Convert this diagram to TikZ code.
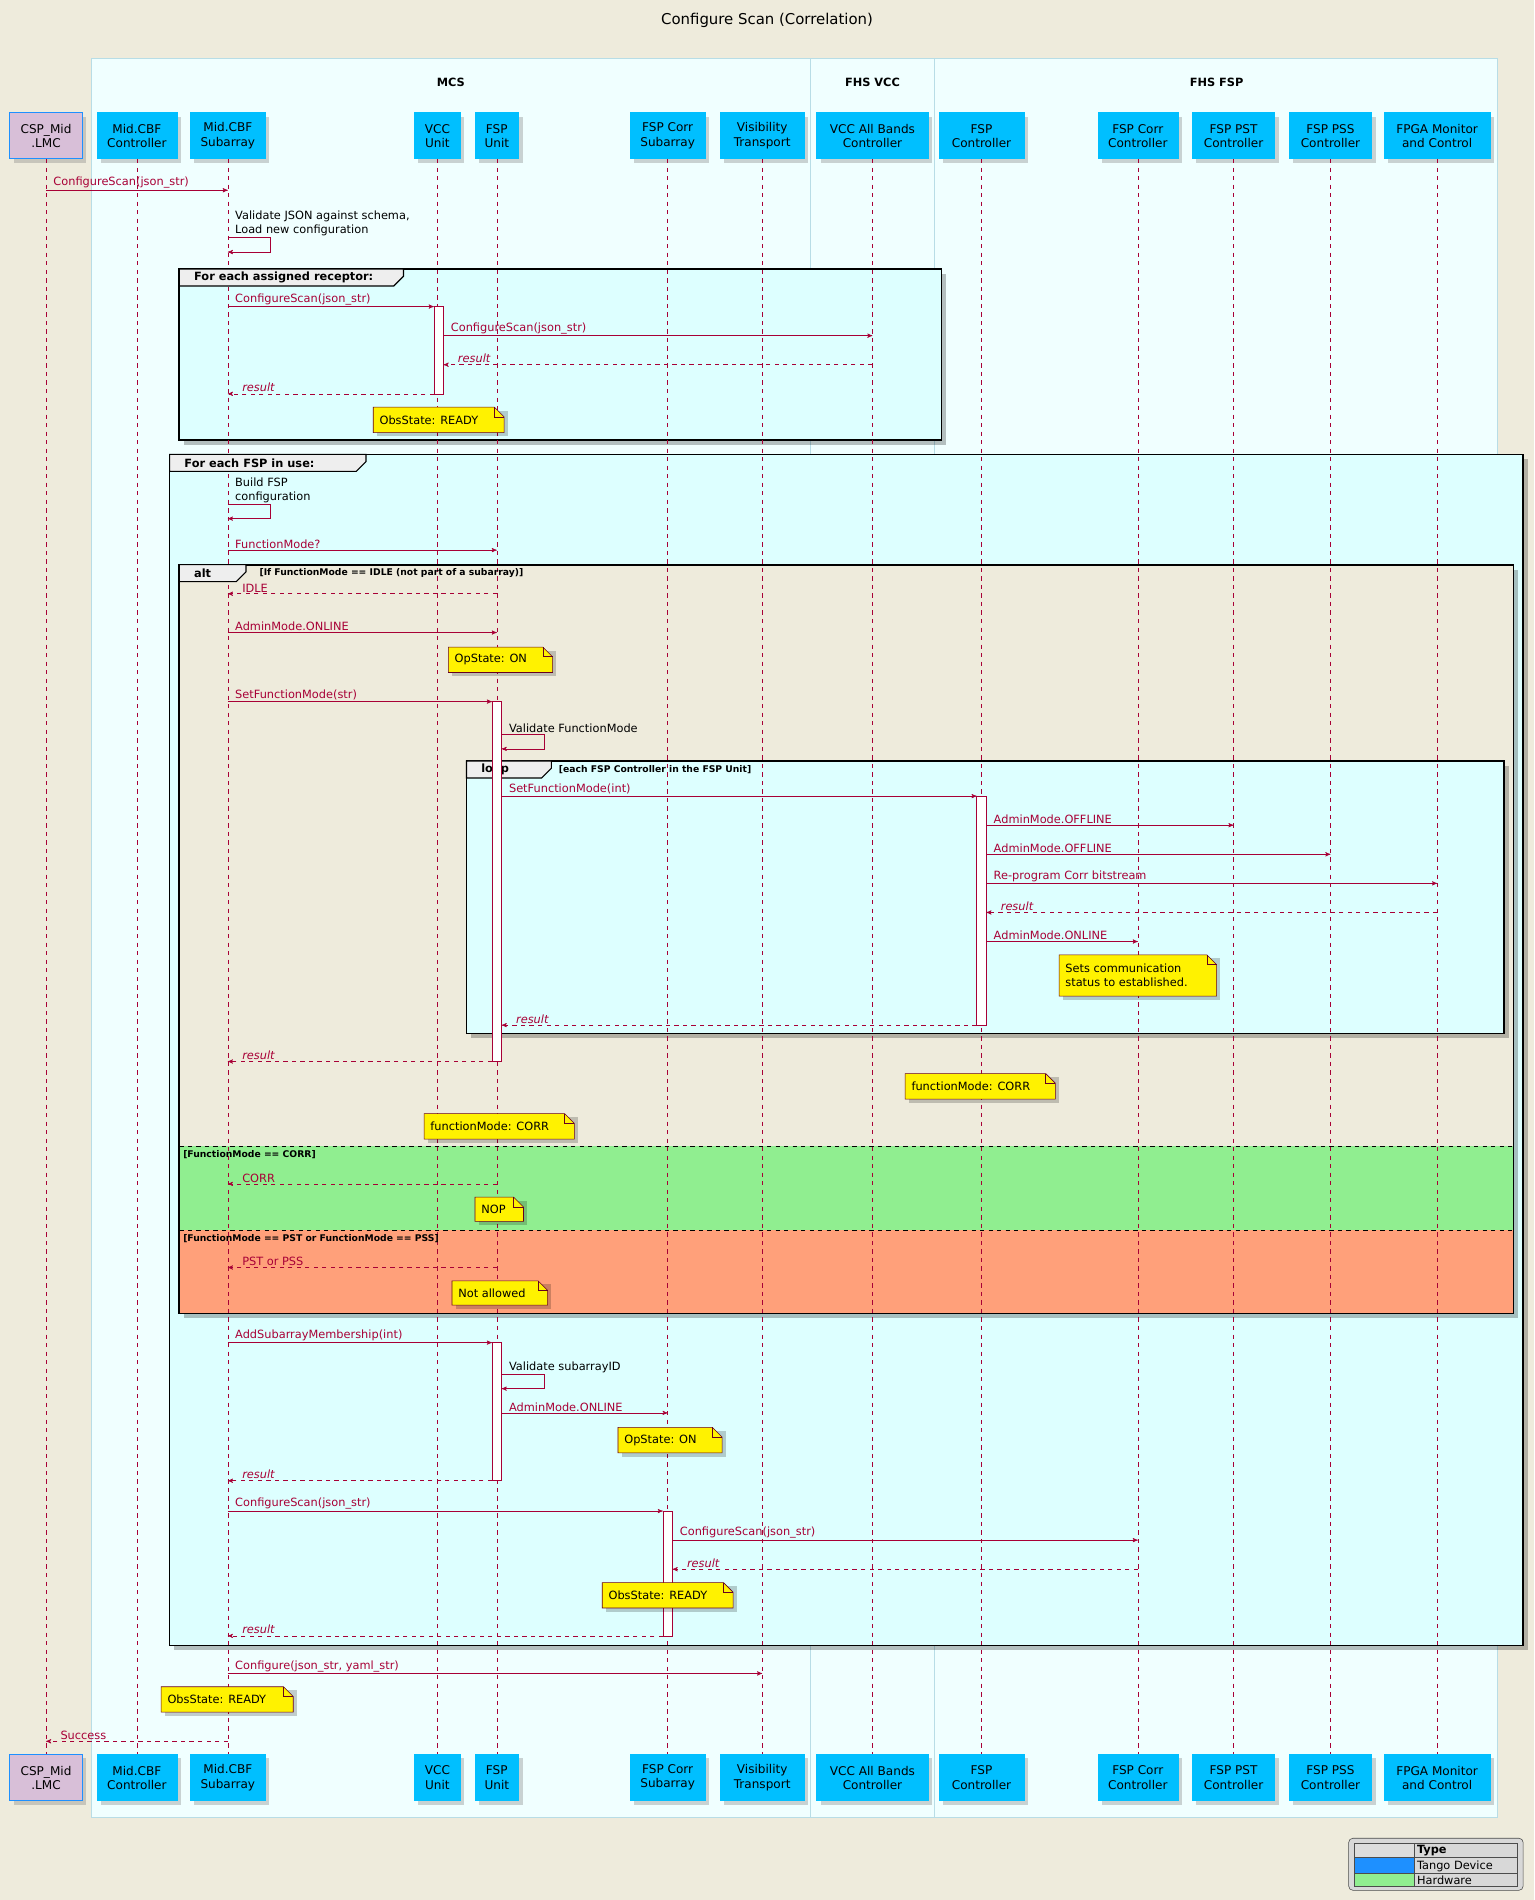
\documentclass[tikz,border=0pt]{standalone}
\usepackage{fontspec}
\setmainfont{DejaVu Sans}
\usetikzlibrary{arrows,shadows}
\definecolor{bgbeige}{HTML}{EEEBDC}
\definecolor{boxazure}{HTML}{F0FFFF}
\definecolor{boxline}{HTML}{B8DDE6}
\definecolor{grpcyan}{HTML}{DDFFFF}
\definecolor{partblue}{HTML}{00BFFF}
\definecolor{lmcfill}{HTML}{D8BFD8}
\definecolor{seqred}{HTML}{A80036}
\definecolor{altgreen}{HTML}{90EE90}
\definecolor{altsalmon}{HTML}{FFA07A}
\definecolor{tangoblue}{HTML}{1E90FF}
\definecolor{tabgray}{HTML}{EEEEEE}

\tikzset{
  part/.style={fill=partblue, draw=partblue, minimum height=1.14cm, inner sep=1pt,
    align=center, font=\fontsize{8.5}{10}\selectfont, drop shadow={opacity=0.35}},
  lifeline/.style={seqred, dashed, thin},
  msgline/.style={seqred, ->, >=stealth'},
  msgtext/.style={font=\fontsize{8}{9.5}\selectfont, inner sep=1pt, align=left},
  actbar/.style={fill=white, draw=seqred},
  notebox/.style={fill=yellow, draw=seqred!60!black, thin},
  notetext/.style={font=\fontsize{8}{9.5}\selectfont, inner sep=0pt, align=left, anchor=west},
  grpframe/.style={draw=black, very thick},
  tabtext/.style={font=\bfseries\fontsize{8}{9}\selectfont, inner sep=0pt, anchor=west},
  condtext/.style={font=\bfseries\fontsize{6.5}{8}\selectfont, inner sep=0pt, anchor=west},
  boxtitle/.style={font=\bfseries\fontsize{8}{9}\selectfont}
}

% message to the right: label at start; to the left: label near head
\newcommand\msgr[5][]{\draw[msgline,#1] (#2 |- 0,#4) -- (#3 |- 0,#4)
  node[msgtext, pos=0, anchor=south west, xshift=4pt] {#5};}
\newcommand\msgl[5][]{\draw[msgline,#1] (#2 |- 0,#4) -- (#3 |- 0,#4)
  node[msgtext, pos=1, anchor=south west, xshift=9pt] {#5};}
\newcommand\selfmsg[3]{\draw[msgline] (#1 |- 0,#2) -- ++(35,0) -- ++(0,12) -- ++(-35,0);
  \node[msgtext, anchor=south west, xshift=4pt] at (#1 |- 0,#2) {#3};}
\newcommand\seqnote[5]{%
  \fill[black, opacity=0.2] (#1+3,#2+3) rectangle (#3+3,#4+3);
  \filldraw[notebox] (#1,#2) -- (#3-8,#2) -- (#3,#2+8) -- (#3,#4) -- (#1,#4) -- cycle;
  \draw[seqred!60!black, thin] (#3-8,#2) -- (#3-8,#2+8) -- (#3,#2+8);
  \node[notetext] at (#1+5,{(#2+#4)/2}) {#5};}
\newcommand\grptab[4]{%
  \filldraw[fill=tabgray, draw=black, thick] (#1,#2) -- (#1,#2+14) -- (#1+#3-8,#2+14) -- (#1+#3,#2+6) -- (#1+#3,#2) -- cycle;
  \node[tabtext] at (#1+12,#2+7) {#4};}
\newcommand\actbox[3]{\filldraw[actbar] (#1-4,#2) rectangle (#1+4,#3);}

\begin{document}
\begin{tikzpicture}[x=0.03cm, y=-0.03cm]
% canvas
\fill[bgbeige] (0,0) rectangle (1266,1568);
\node[font=\fontsize{10.5}{12}\selectfont] (title) at (633,17) {Configure Scan (Correlation)};

% boxes around participants
\filldraw[fill=boxazure, draw=boxline] (75,48) rectangle (669,1500);
\filldraw[fill=boxazure, draw=boxline] (669,48) rectangle (771,1500);
\filldraw[fill=boxazure, draw=boxline] (771,48) rectangle (1236,1500);
\node[boxtitle] (mcs) at (372,68) {MCS};
\node[boxtitle] (fhsvcc) at (720,68) {FHS VCC};
\node[boxtitle] (fhsfsp) at (1004,68) {FHS FSP};

% group frames (fills)
\fill[black, opacity=0.25] (152,226) rectangle (781,367);
\filldraw[grpframe, fill=grpcyan] (148,222) rectangle (777,363);
\fill[black, opacity=0.25] (144,379) rectangle (1261,1362);
\filldraw[grpframe, fill=grpcyan] (140,375) rectangle (1257,1358);
\fill[black, opacity=0.25] (152,470) rectangle (1253,1088);
\fill[bgbeige] (148,466) rectangle (1249,946);
\fill[altgreen] (148,946) rectangle (1249,1015);
\fill[altsalmon] (148,1015) rectangle (1249,1084);
\draw[grpframe] (148,466) rectangle (1249,1084);
\draw[black, dashed, thin] (148,946) -- (1249,946);
\draw[black, dashed, thin] (148,1015) -- (1249,1015);
\fill[black, opacity=0.25] (389,632) rectangle (1245,857);
\filldraw[grpframe, fill=grpcyan] (385,628) rectangle (1241,853);

% participants
\node[part, fill=lmcfill, draw=tangoblue, minimum width=1.8cm] (lmc) at (38,112) {CSP\_Mid\\.LMC};
\node[part, minimum width=1.98cm] (ctrl) at (113,112) {Mid.CBF\\Controller};
\node[part, minimum width=1.86cm] (sub) at (188,112) {Mid.CBF\\Subarray};
\node[part, minimum width=1.14cm] (vcc) at (361,112) {VCC\\Unit};
\node[part, minimum width=1.08cm] (fsp) at (410,112) {FSP\\Unit};
\node[part, minimum width=1.86cm] (fcs) at (551,112) {FSP Corr\\Subarray};
\node[part, minimum width=2.07cm] (vis) at (629,112) {Visibility\\Transport};
\node[part, minimum width=2.76cm] (vccall) at (720,112) {VCC All Bands\\Controller};
\node[part, minimum width=2.1cm] (fspc) at (810,112) {FSP\\Controller};
\node[part, minimum width=1.98cm] (corrc) at (939,112) {FSP Corr\\Controller};
\node[part, minimum width=2.04cm] (pstc) at (1018,112) {FSP PST\\Controller};
\node[part, minimum width=2.04cm] (pssc) at (1098,112) {FSP PSS\\Controller};
\node[part, minimum width=2.64cm] (fpga) at (1186,112) {FPGA Monitor\\and Control};

\node[part, fill=lmcfill, draw=tangoblue, minimum width=1.8cm] (lmcB) at (38,1467) {CSP\_Mid\\.LMC};
\node[part, minimum width=1.98cm] (ctrlB) at (113,1467) {Mid.CBF\\Controller};
\node[part, minimum width=1.86cm] (subB) at (188,1467) {Mid.CBF\\Subarray};
\node[part, minimum width=1.14cm] (vccB) at (361,1467) {VCC\\Unit};
\node[part, minimum width=1.08cm] (fspB) at (410,1467) {FSP\\Unit};
\node[part, minimum width=1.86cm] (fcsB) at (551,1467) {FSP Corr\\Subarray};
\node[part, minimum width=2.07cm] (visB) at (629,1467) {Visibility\\Transport};
\node[part, minimum width=2.76cm] (vccallB) at (720,1467) {VCC All Bands\\Controller};
\node[part, minimum width=2.1cm] (fspcB) at (810,1467) {FSP\\Controller};
\node[part, minimum width=1.98cm] (corrcB) at (939,1467) {FSP Corr\\Controller};
\node[part, minimum width=2.04cm] (pstcB) at (1018,1467) {FSP PST\\Controller};
\node[part, minimum width=2.04cm] (psscB) at (1098,1467) {FSP PSS\\Controller};
\node[part, minimum width=2.64cm] (fpgaB) at (1186,1467) {FPGA Monitor\\and Control};

% lifelines
\foreach \p in {lmc,ctrl,sub,vcc,fsp,fcs,vis,vccall,fspc,corrc,pstc,pssc,fpga}
  \draw[lifeline] (\p.south) -- (\p B.north);

% frame tabs
\grptab{148}{222}{185}{For each assigned receptor:}
\grptab{140}{375}{162}{For each FSP in use:}
\grptab{148}{466}{55}{alt}
\node[condtext] (c1) at (214,473) {[If FunctionMode == IDLE (not part of a subarray)]};
\node[condtext] (c2) at (151,953) {[FunctionMode == CORR]};
\node[condtext] (c3) at (151,1022) {[FunctionMode == PST or FunctionMode == PSS]};
\grptab{385}{628}{70}{loop}
\node[condtext] (c4) at (461,635) {[each FSP Controller in the FSP Unit]};

% activation bars
\actbox{362}{253}{325}
\actbox{410}{579}{876}
\actbox{410}{1108}{1222}
\actbox{810}{657}{846}
\actbox{551}{1247}{1350}
\coordinate (vccL) at (358,0); \coordinate (vccR) at (366,0);
\coordinate (fspL) at (406,0); \coordinate (fspR) at (414,0);
\coordinate (fspcL) at (806,0); \coordinate (fspcR) at (814,0);
\coordinate (fcsL) at (547,0); \coordinate (fcsR) at (555,0);

% messages
\msgr{lmc}{sub}{157}{ConfigureScan(json\_str)}
\selfmsg{sub}{196}{Validate JSON against schema,\\Load new configuration}
\msgr{sub}{vccL}{253}{ConfigureScan(json\_str)}
\msgr{vccR}{vccall}{277}{ConfigureScan(json\_str)}
\msgl[dashed]{vccall}{vccR}{301}{\textit{result}}
\msgl[dashed]{vccL}{sub}{325}{\textit{result}}
\seqnote{308}{336}{416}{357}{ObsState: READY}

\selfmsg{sub}{416}{Build FSP\\configuration}
\msgr{sub}{fsp}{454}{FunctionMode?}
\msgl[dashed]{fsp}{sub}{490}{IDLE}
\msgr{sub}{fsp}{522}{AdminMode.ONLINE}
\seqnote{370}{534}{456}{555}{OpState: ON}
\msgr{sub}{fspL}{579}{SetFunctionMode(str)}
\selfmsg{fspR}{606}{Validate FunctionMode}
\msgr{fspR}{fspcL}{657}{SetFunctionMode(int)}
\msgr{fspcR}{pstc}{681}{AdminMode.OFFLINE}
\msgr{fspcR}{pssc}{705}{AdminMode.OFFLINE}
\msgr{fspcR}{fpga}{729}{Re-program Corr bitstream}
\msgl[dashed]{fpga}{fspcR}{753}{\textit{result}}
\msgr{fspcR}{corrc}{777}{AdminMode.ONLINE}
\seqnote{874}{788}{1004}{822}{Sets communication\\status to established.}
\msgl[dashed]{fspcL}{fspR}{846}{\textit{result}}
\msgl[dashed]{fspL}{sub}{876}{\textit{result}}
\seqnote{747}{886}{871}{907}{functionMode: CORR}
\seqnote{350}{919}{474}{940}{functionMode: CORR}
\msgl[dashed]{fsp}{sub}{977}{CORR}
\seqnote{392}{988}{432}{1008}{NOP}
\msgl[dashed]{fsp}{sub}{1046}{PST or PSS}
\seqnote{373}{1057}{452}{1077}{Not allowed}

\msgr{sub}{fspL}{1108}{AddSubarrayMembership(int)}
\selfmsg{fspR}{1134}{Validate subarrayID}
\msgr{fspR}{fcs}{1166}{AdminMode.ONLINE}
\seqnote{510}{1178}{596}{1199}{OpState: ON}
\msgl[dashed]{fspL}{sub}{1222}{\textit{result}}
\msgr{sub}{fcsL}{1247}{ConfigureScan(json\_str)}
\msgr{fcsR}{corrc}{1271}{ConfigureScan(json\_str)}
\msgl[dashed]{corrc}{fcsR}{1295}{\textit{result}}
\seqnote{497}{1306}{605}{1327}{ObsState: READY}
\msgl[dashed]{fcsL}{sub}{1350}{\textit{result}}
\msgr{sub}{vis}{1381}{Configure(json\_str, yaml\_str)}
\seqnote{133}{1392}{242}{1413}{ObsState: READY}
\msgl[dashed]{sub}{lmc}{1437}{Success}

% legend
\filldraw[fill=tabgray!80!gray, draw=black!70, rounded corners=3pt] (1113,1517) rectangle (1257,1560);
\filldraw[fill=tabgray!85!gray, draw=black!70] (1118,1521) rectangle (1167,1533);
\filldraw[fill=tangoblue, draw=black!70] (1118,1533) rectangle (1167,1546);
\filldraw[fill=altgreen, draw=black!70] (1118,1546) rectangle (1167,1557);
\draw[black!70] (1167,1521) rectangle (1252,1557);
\draw[black!70] (1167,1533) -- (1252,1533) (1167,1546) -- (1252,1546);
\node[font=\bfseries\fontsize{8}{9}\selectfont, anchor=west, inner sep=1pt] (lgtype) at (1168,1527) {Type};
\node[font=\fontsize{8}{9}\selectfont, anchor=west, inner sep=1pt] (lgtango) at (1168,1540) {Tango Device};
\node[font=\fontsize{8}{9}\selectfont, anchor=west, inner sep=1pt] (lghw) at (1168,1552) {Hardware};
\end{tikzpicture}
\end{document}
